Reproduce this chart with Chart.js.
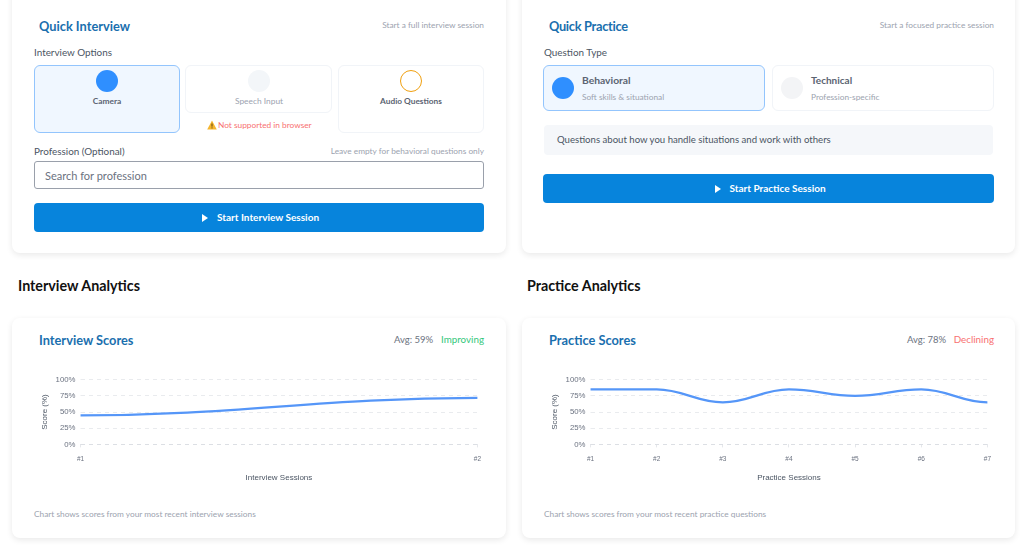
<!DOCTYPE html>
<html>
<head>
<meta charset="utf-8">
<script src="https://cdn.jsdelivr.net/npm/chart.js@4"></script>
<style>
html, body { margin: 0; width: 1024px; height: 549px; overflow: hidden; background: #fff; font-family: Lato, sans-serif; }
.abs, .card, .box, .dot, .btn, .info { position: absolute; }
.abs { white-space: nowrap; line-height: 1; transform: translateY(-50%); }
.right { transform: translate(-100%, -50%); }
.mid { transform: translate(-50%, -50%); }
.card { background: #fff; border-radius: 8px; box-shadow: 0 2px 6px rgba(0,0,0,.09); }
.title { font-size: 12.8px; font-weight: 700; color: #1a6fae; }
.hint { font-size: 8.3px; color: #9ca3af; }
.label { font-size: 9.9px; color: #4b5563; }
.head { font-size: 14.3px; font-weight: 700; color: #111; }
.box { box-sizing: border-box; border: 1px solid #f1f4f8; border-radius: 6px; background: #fff; }
.box.on { border: 1.3px solid #93c5fd; background: #f0f7ff; }
.dot { border-radius: 50%; box-sizing: border-box; }
.btn { background: #0784dc; border-radius: 4px; height: 29px; }
.btntxt { font-size: 10px; font-weight: 700; color: #fff; }
.play { position: absolute; width: 0; height: 0; border-left: 6px solid #fff; border-top: 4px solid transparent; border-bottom: 4px solid transparent; }
canvas { position: absolute; }
</style>
</head>
<body>
<div class="card" style="left:12px;top:-20px;width:494px;height:273px"></div>
<div class="card" style="left:522px;top:-20px;width:493px;height:273px"></div>
<div class="card" style="left:12px;top:318px;width:494px;height:220px"></div>
<div class="card" style="left:522px;top:318px;width:493px;height:220px"></div>

<div class="abs title" style="left:39px;top:26.200px">Quick Interview</div>
<div class="abs hint right" style="left:484px;top:25px">Start a full interview session</div>
<div class="abs label" style="left:34px;top:52.500px">Interview Options</div>
<div class="box on" style="left:34px;top:65px;width:146px;height:68px"></div>
<div class="dot" style="left:96px;top:70px;width:22px;height:22px;background:#2f8fff"></div>
<div class="abs mid" style="left:107px;top:101px;font-size:8.4px;font-weight:700;color:#5b6472">Camera</div>
<div class="box" style="left:185px;top:65px;width:147px;height:48px"></div>
<div class="dot" style="left:248px;top:70px;width:22px;height:22px;background:#f3f6f9"></div>
<div class="abs mid" style="left:259px;top:101px;font-size:8.4px;color:#9ca3af">Speech Input</div>
<div class="box" style="left:338px;top:65px;width:146px;height:68px"></div>
<div class="dot" style="left:400px;top:70px;width:22px;height:22px;border:1.5px solid #f0a010"></div>
<div class="abs mid" style="left:411px;top:101px;font-size:8.3px;font-weight:700;color:#5b6472">Audio Questions</div>
<svg style="position:absolute;left:207px;top:120px" width="10" height="10" viewBox="0 0 10 10"><path d="M5 .5 9.8 9.5H.2Z" fill="#f5b52e"/><path d="M5 3.5V6.6M5 7.4V8.4" stroke="#5a4210" stroke-width="1"/></svg>
<div class="abs" style="left:218px;top:125px;font-size:8.3px;color:#f87171">Not supported in browser</div>
<div class="abs label" style="left:34px;top:151.500px">Profession (Optional)</div>
<div class="abs hint right" style="left:484px;top:151px">Leave empty for behavioral questions only</div>
<div class="box" style="left:34px;top:161px;width:450px;height:28px;border:1.3px solid #9aa0ab;border-radius:3px"></div>
<div class="abs" style="left:45px;top:174.500px;font-size:11px;color:#6b7280">Search for profession</div>
<div class="btn" style="left:34px;top:203px;width:450px"></div>
<div class="play" style="left:202px;top:213.500px"></div>
<div class="abs btntxt" style="left:217px;top:217px">Start Interview Session</div>

<div class="abs title" style="left:549px;top:26.200px;letter-spacing:-.3px">Quick Practice</div>
<div class="abs hint right" style="left:994px;top:25px">Start a focused practice session</div>
<div class="abs label" style="left:544px;top:52.500px">Question Type</div>
<div class="box on" style="left:543px;top:65px;width:222px;height:46px"></div>
<div class="dot" style="left:552px;top:77px;width:22px;height:22px;background:#2f8fff"></div>
<div class="abs label" style="left:582px;top:80px;font-size:10.3px;font-weight:700;color:#5b6472">Behavioral</div>
<div class="abs hint" style="left:582px;top:97px">Soft skills &amp; situational</div>
<div class="box" style="left:772px;top:65px;width:222px;height:46px"></div>
<div class="dot" style="left:781px;top:77px;width:22px;height:22px;background:#f3f4f6"></div>
<div class="abs label" style="left:811px;top:80px;font-size:10px;font-weight:700;color:#5b6472">Technical</div>
<div class="abs hint" style="left:811px;top:97px">Profession-specific</div>
<div class="info" style="left:544px;top:125px;width:449px;height:30px;background:#f5f7fa;border-radius:4px"></div>
<div class="abs label" style="left:557px;top:140px;font-size:9.6px">Questions about how you handle situations and work with others</div>
<div class="btn" style="left:543px;top:174px;width:451px"></div>
<div class="play" style="left:715px;top:184.500px"></div>
<div class="abs btntxt" style="left:729.500px;top:188px">Start Practice Session</div>

<div class="abs head" style="left:18px;top:286px">Interview Analytics</div>
<div class="abs head" style="left:527px;top:286px">Practice Analytics</div>

<div class="abs title" style="left:39px;top:340.200px">Interview Scores</div>
<div class="abs label" style="left:394px;top:340px;font-size:9.5px;color:#6b7280">Avg: 59%</div>
<div class="abs label right" style="left:484px;top:340px;font-size:9.8px;color:#34c77b">Improving</div>
<canvas id="interviewChart" style="left:34px;top:370px"></canvas>
<div class="abs hint" style="left:34px;top:514px">Chart shows scores from your most recent interview sessions</div>

<div class="abs title" style="left:549px;top:340.200px">Practice Scores</div>
<div class="abs label" style="left:907px;top:340px;font-size:9.5px;color:#6b7280">Avg: 78%</div>
<div class="abs label right" style="left:994px;top:340px;font-size:9.8px;color:#f87171">Declining</div>
<canvas id="practiceChart" style="left:544px;top:370px"></canvas>
<div class="abs hint" style="left:544px;top:514px">Chart shows scores from your most recent practice questions</div>

<script>
const interviewLabels = ['#1', '#2'];
const interviewScores = [45, 72];
const practiceLabels = ['#1', '#2', '#3', '#4', '#5', '#6', '#7'];
const practiceScores = [85, 85, 65, 85, 75, 85, 65];
const scoreTicks = [0, 25, 50, 75, 100];
const chartFont = 'Liberation Sans';

// curve leaves and enters every point flat
const flatCurve = {
    id: 'flatCurve',
    beforeDatasetsDraw(chart) {
        const line = chart.getDatasetMeta(0).dataset;
        const pts = chart.getDatasetMeta(0).data;
        pts.forEach((p, i) => {
            const prev = pts[i - 1], next = pts[i + 1];
            p.cp1x = prev ? p.x - (p.x - prev.x) * 0.4 : p.x;
            p.cp1y = p.y;
            p.cp2x = next ? p.x + (next.x - p.x) * 0.4 : p.x;
            p.cp2y = p.y;
        });
        line._pointsUpdated = true;
    }
};

function makeChart(id, labels, scores, xTitle) {
    const canvas = document.getElementById(id);
    canvas.width = 455;
    canvas.height = 120;
    return new Chart(canvas.getContext('2d'), {
        type: 'line',
        data: {
            labels: labels,
            datasets: [{
                data: scores,
                borderColor: '#5596f8',
                borderWidth: 2.2,
                tension: 0.4,
                pointRadius: 0,
                fill: false
            }]
        },
        options: {
            responsive: false,
            animation: false,
            layout: { padding: { top: 9.500, left: 6, right: 0, bottom: 7 } },
            plugins: { legend: { display: false }, tooltip: { enabled: false } },
            scales: {
                x: {
                    offset: false,
                    grid: { drawOnChartArea: false, tickLength: 3, color: '#e5e7eb' },
                    border: { display: false },
                    ticks: { color: '#6b7280', font: { size: 6.5, family: chartFont }, maxRotation: 0, padding: 8 },
                    title: { display: true, text: xTitle, color: '#4b5563', font: { size: 8, family: chartFont }, padding: { top: 2.200, bottom: 0 } }
                },
                y: {
                    min: 0,
                    max: 100,
                    afterBuildTicks: (axis) => { axis.ticks = scoreTicks.map((v) => ({ value: v })); },
                    grid: { color: (c) => c.tick.value === 0 ? '#dcdfe4' : '#e9ebee', tickLength: 0 },
                    border: { display: false, dash: [4, 4] },
                    ticks: { color: '#6b7280', font: { size: 7.8, family: chartFont }, padding: 5, callback: (v) => v + '%' },
                    title: { display: true, text: 'Score (%)', color: '#4b5563', font: { size: 8, family: chartFont }, padding: { top: 0, bottom: 1 } }
                }
            }
        },
        plugins: [flatCurve]
    });
}

makeChart('interviewChart', interviewLabels, interviewScores, 'Interview Sessions');
makeChart('practiceChart', practiceLabels, practiceScores, 'Practice Sessions');
</script>
</body>
</html>
